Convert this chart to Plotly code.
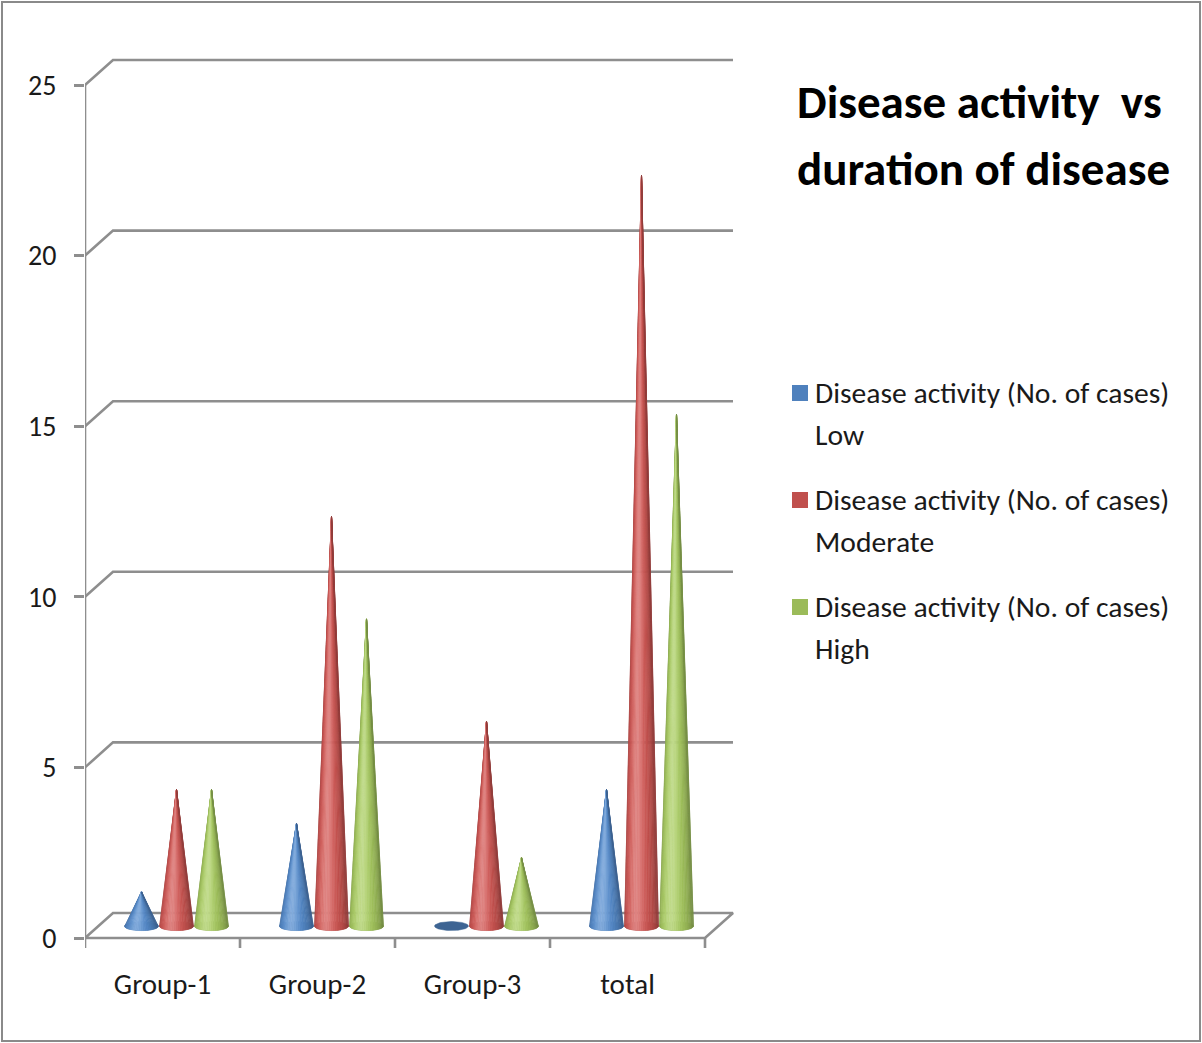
import numpy as np
import plotly.graph_objects as go

# ---- data ----
categories = ["Group-1", "Group-2", "Group-3", "total"]
series_names = ["Low", "Moderate", "High"]
low_cases = [1, 3, 0, 4]
moderate_cases = [4, 12, 6, 22]
high_cases = [4, 9, 2, 15]
y_ticks = [0, 5, 10, 15, 20, 25]

series_values = [low_cases, moderate_cases, high_cases]
series_colors = [(79, 129, 189), (192, 80, 77), (155, 187, 89)]

# ---- page / plot-area geometry (pixels) ----
W, H = 1202, 1043
L_M, R_M, T_M, B_M = 85, 442, 40, 83
PLOT_W = W - L_M - R_M
PLOT_H = H - T_M - B_M
PX_X = 155.0          # pixels per category
PX_Y = 34.12          # pixels per case
ZERO_PX = 938         # pixel row of value 0 on the front edge

x_range = [-0.5, -0.5 + PLOT_W / PX_X]
y_range = [-(H - B_M - ZERO_PX) / PX_Y, (ZERO_PX - T_M) / PX_Y]

# depth of the floor (back wall offset) in axis units
DX = 28 / PX_X
DY = 25 / PX_Y

# cone geometry in axis units
SERIES_STEP = 35 / PX_X
CONE_R = 17 / PX_X
CONE_E = 4.5 / PX_Y
CONE_BASE = 0.35
N_SLICES = 28

GRID_COLOR = "#8e8e8e"
TEXT_COLOR = "#1a1a1a"
FONT = "Calibri, Carlito, Lato, sans-serif"


def px_to_paper_x(px):
    return (px - L_M) / PLOT_W


def px_to_paper_y(py):
    return (H - B_M - py) / PLOT_H


def shade(rgb, t, k_amb=0.76, k_dif=0.34, k_spec=0.26):
    d = max(t, 0.0)
    f = k_amb + k_dif * d
    spec = k_spec * d ** 10
    c = [min(255, v * f + (255 - v * f) * spec) for v in rgb]
    return "rgb(%d,%d,%d)" % tuple(int(round(v)) for v in c)


fig = go.Figure()

# ---- back wall gridlines with their perspective connectors ----
x_left, x_right = -0.5, len(categories) - 0.5
for v in y_ticks[1:]:
    fig.add_trace(go.Scatter(
        x=[x_left, x_left + DX, x_right + DX],
        y=[v, v + DY, v + DY],
        mode="lines", line=dict(color=GRID_COLOR, width=2.6),
        hoverinfo="skip", showlegend=False))

# floor outline
fig.add_trace(go.Scatter(
    x=[x_left, x_left + DX, x_right + DX, x_right, x_left],
    y=[0, DY, DY, 0, 0],
    mode="lines", line=dict(color=GRID_COLOR, width=2.6),
    hoverinfo="skip", showlegend=False))

# front value axis
fig.add_trace(go.Scatter(
    x=[x_left, x_left], y=[0, y_ticks[-1]],
    mode="lines", line=dict(color=GRID_COLOR, width=2.6),
    hoverinfo="skip", showlegend=False))

# category boundary tick marks
tick_x, tick_y = [], []
for k in range(len(categories) + 1):
    tick_x += [x_left + k, x_left + k, None]
    tick_y += [0, -10 / PX_Y, None]
fig.add_trace(go.Scatter(
    x=tick_x, y=tick_y, mode="lines",
    line=dict(color=GRID_COLOR, width=2.6),
    hoverinfo="skip", showlegend=False))

# ---- cones ----
theta = np.linspace(np.pi, 0, N_SLICES + 1)
theta_light = 0.60 * np.pi
for j, (name, vals, rgb) in enumerate(zip(series_names, series_values, series_colors)):
    centers = [i + (j - 1) * SERIES_STEP + DX / 2 for i in range(len(categories))]

    # base ellipses (visible where a cone has no height)
    ex, ey = [], []
    full = np.linspace(0, 2 * np.pi, 60)
    for cx in centers:
        ex += list(cx + CONE_R * np.cos(full)) + [None]
        ey += list(CONE_BASE + CONE_E * np.sin(full)) + [None]
    dark = tuple(int(c * 0.78) for c in rgb)
    fig.add_trace(go.Scatter(
        x=ex, y=ey, fill="toself", mode="lines",
        fillcolor="rgb(%d,%d,%d)" % dark, line=dict(color="rgb(%d,%d,%d)" % dark, width=0.5),
        hoverinfo="skip", showlegend=False))

    # cone bodies, one trace per lit slice
    for s in range(N_SLICES):
        t0, t1 = theta[s], theta[s + 1]
        tm = 0.5 * (t0 + t1)
        col = shade(rgb, np.cos(tm - theta_light))
        sx, sy = [], []
        for cx, v in zip(centers, vals):
            if v <= 0:
                continue
            sx += [cx, cx + CONE_R * np.cos(t0), cx + CONE_R * np.cos(t1), cx, None]
            sy += [CONE_BASE + v, CONE_BASE - CONE_E * np.sin(t0),
                   CONE_BASE - CONE_E * np.sin(t1), CONE_BASE + v, None]
        fig.add_trace(go.Scatter(
            x=sx, y=sy, fill="toself", mode="lines",
            fillcolor=col, line=dict(color=col, width=0.6),
            name=name, hoverinfo="skip", showlegend=False))

# ---- title ----
annotations = [
    dict(text="<b>Disease activity  vs</b>", x=px_to_paper_x(795), y=px_to_paper_y(102)),
    dict(text="<b>duration of disease</b>", x=px_to_paper_x(795), y=px_to_paper_y(169)),
]
for a in annotations:
    a.update(xref="paper", yref="paper", xanchor="left", yanchor="middle",
             showarrow=False, font=dict(family=FONT, size=47, color="#000000"))

# ---- legend ----
shapes = []
legend_top = [393, 500, 607]
for name, rgb, yc in zip(series_names, series_colors, legend_top):
    shapes.append(dict(
        type="rect", xref="paper", yref="paper",
        x0=px_to_paper_x(792), x1=px_to_paper_x(808),
        y0=px_to_paper_y(yc + 8), y1=px_to_paper_y(yc - 8),
        fillcolor="rgb(%d,%d,%d)" % rgb, line=dict(width=0)))
    for txt, yy in (("Disease activity (No. of cases)", yc), (name, yc + 42)):
        annotations.append(dict(
            text=txt, xref="paper", yref="paper",
            x=px_to_paper_x(813), y=px_to_paper_y(yy),
            xanchor="left", yanchor="middle", showarrow=False,
            font=dict(family=FONT, size=29.6, color=TEXT_COLOR)))

# outer frame of the chart
shapes.append(dict(
    type="rect", xref="paper", yref="paper",
    x0=px_to_paper_x(2), x1=px_to_paper_x(1200),
    y0=px_to_paper_y(1041), y1=px_to_paper_y(2),
    line=dict(color="#8a8a8a", width=2), fillcolor="rgba(0,0,0,0)", layer="below"))

fig.update_layout(
    width=W, height=H,
    margin=dict(l=L_M, r=R_M, t=T_M, b=B_M),
    paper_bgcolor="white", plot_bgcolor="white",
    showlegend=False,
    annotations=annotations, shapes=shapes,
    font=dict(family=FONT, color=TEXT_COLOR),
    xaxis=dict(range=x_range, tickmode="array",
               tickvals=list(range(len(categories))), ticktext=categories,
               showgrid=False, zeroline=False, showline=False,
               ticks="", ticklabelstandoff=4,
               tickfont=dict(family=FONT, size=29, color=TEXT_COLOR),
               fixedrange=True),
    yaxis=dict(range=y_range, tickmode="array", tickvals=y_ticks,
               showgrid=False, zeroline=False, showline=False,
               ticks="outside", ticklen=10, tickcolor=GRID_COLOR, tickwidth=2.6,
               ticklabelstandoff=12,
               tickfont=dict(family=FONT, size=28, color=TEXT_COLOR),
               fixedrange=True),
)

fig.write_html("out.html")
